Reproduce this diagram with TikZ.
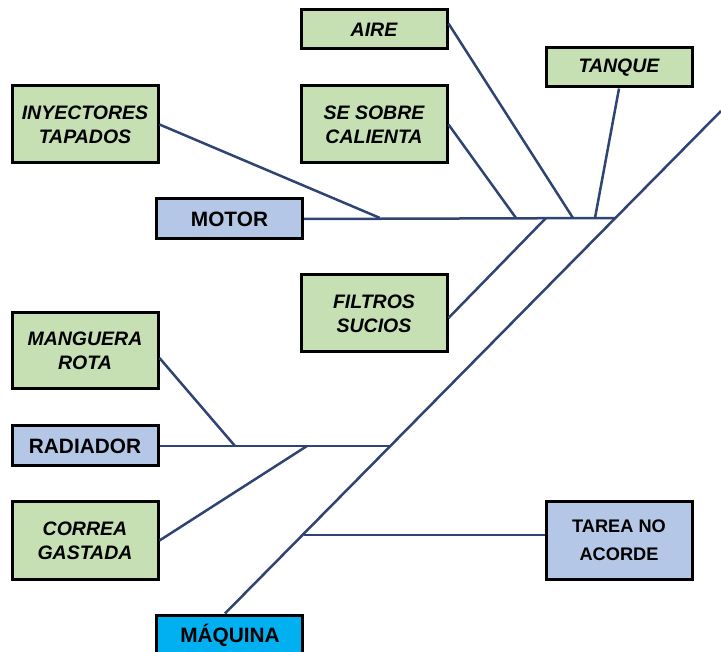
\documentclass[tikz,border=0pt]{standalone}
\usepackage{fontspec}
\setmainfont{Liberation Sans}
\usetikzlibrary{calc}
\definecolor{bonegreen}{RGB}{198,224,180}
\definecolor{boneblue}{RGB}{180,199,231}
\definecolor{bonecyan}{RGB}{0,176,240}
\definecolor{boneline}{RGB}{47,68,115}
\tikzset{
  cause/.style={draw=black, line width=3pt, fill=bonegreen, align=center, inner sep=0pt,
    minimum width=146pt, font=\fontsize{19.5}{24}\selectfont\bfseries\itshape},
  catbox/.style={draw=black, line width=3pt, fill=boneblue, align=center, inner sep=0pt,
    minimum width=146pt, font=\fontsize{20.8}{26}\selectfont\bfseries},
  bone/.style={draw=boneline, line width=2.5pt}
}
\begin{document}
\begin{tikzpicture}[x=1pt,y=-1pt]
\useasboundingbox (0,0) rectangle (721,652);
% nodes
\node[cause, minimum height=39pt] (aire) at (374,29.5) {AIRE};
\node[cause, minimum height=39pt] (tanque) at (619,67.5) {TANQUE};
\node[cause, minimum height=77pt] (sobre) at (374,124.5) {SE SOBRE\\CALIENTA};
\node[cause, minimum height=77pt] (iny) at (85,124.5) {INYECTORES\\TAPADOS};
\node[catbox, minimum height=40pt] (motor) at (229.5,219) {MOTOR};
\node[cause, minimum height=77pt] (filtros) at (374,313.5) {FILTROS\\SUCIOS};
\node[cause, minimum height=76pt] (manguera) at (85,351) {MANGUERA\\ROTA};
\node[catbox, minimum height=40pt] (radiador) at (85,446) {RADIADOR};
\node[cause, minimum height=77pt] (correa) at (85,540.5) {CORREA\\GASTADA};
\node[catbox, minimum height=77pt, font=\fontsize{18.2}{28}\selectfont\bfseries] (tarea) at (619,540.5) {TAREA NO\\ACORDE};
\node[catbox, fill=bonecyan, minimum height=44pt, text depth=0pt] (maq) at (229.5,637) {};
\node[font=\fontsize{20.8}{26}\selectfont\bfseries, inner sep=0pt] (maqt) at (230,635.5) {MÁQUINA};
% spine coordinates
\coordinate (top) at (721,111);
\coordinate (sm) at (616,218);
\coordinate (sr) at (391,446);
\coordinate (st) at (304,535);
% motor branch junctions
\coordinate (jiny) at (380,218);
\coordinate (jsob) at (516,218);
\coordinate (jfil) at (546,218);
\coordinate (jair) at (573,218);
\coordinate (jtan) at (595,218);
% radiador branch junctions
\coordinate (jman) at (235,446);
\coordinate (jcor) at (307,446);
% connectors
\draw[bone] ($(maq.north)+(-4.5,0)$) -- (top);
\draw[bone] (motor.east) -- (sm);
\draw[bone] (iny.east) -- (jiny);
\draw[bone] (sobre.east) -- (jsob);
\draw[bone] ($(filtros.east)+(0,4.5)$) -- (jfil);
\draw[bone] ($(aire.east)+(0,-6)$) -- (jair);
\draw[bone] (tanque.south) -- (jtan);
\draw[bone] (radiador.east) -- (sr);
\draw[bone] ($(manguera.east)+(0,7)$) -- (jman);
\draw[bone] (correa.east) -- (jcor);
\draw[bone] (st) -- ($(tarea.west)+(0,-5.5)$);
\end{tikzpicture}
\end{document}
